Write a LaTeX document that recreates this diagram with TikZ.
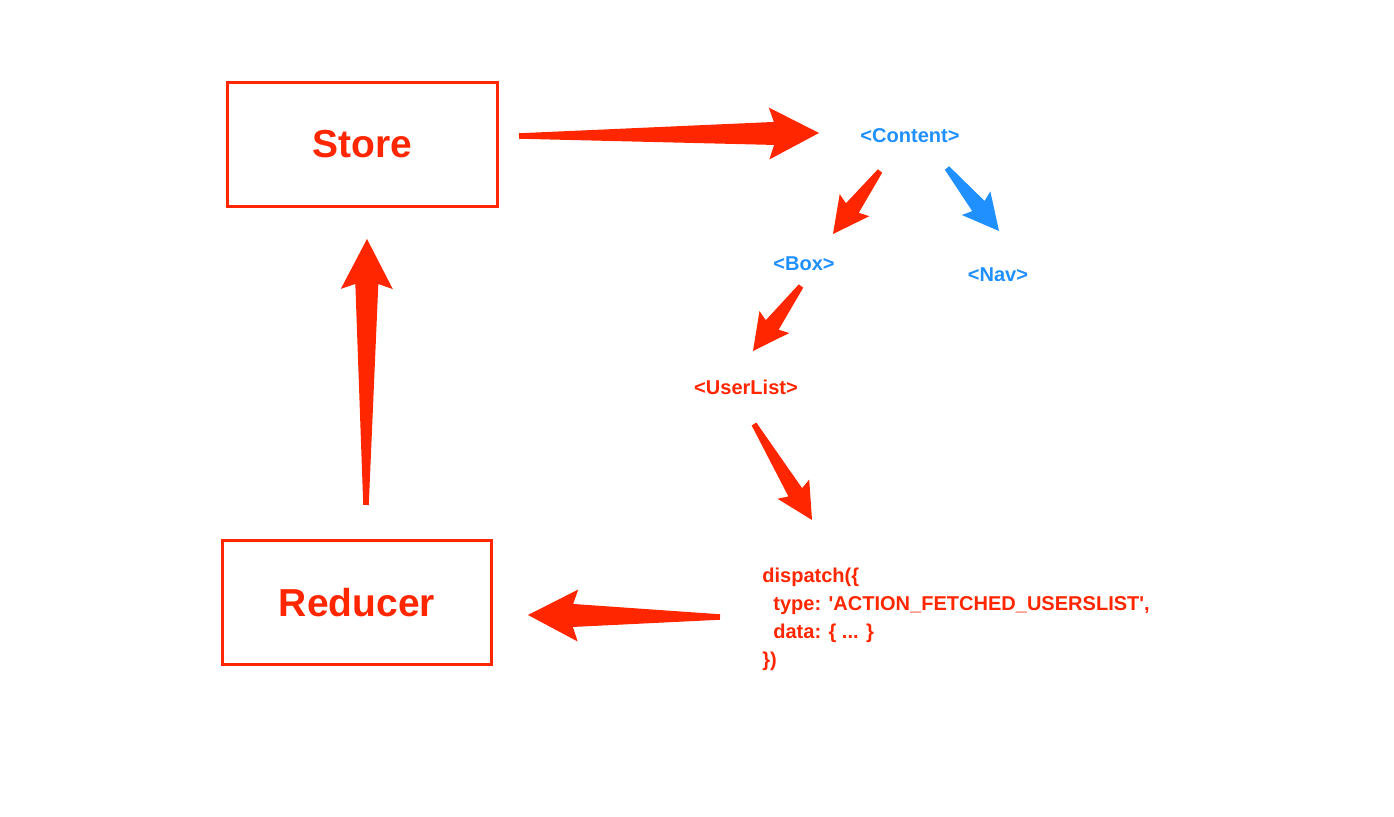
\documentclass[tikz,border=0pt]{standalone}
\usepackage{fontspec}
\setmainfont{Liberation Sans}
\usetikzlibrary{calc}

\definecolor{flowred}{RGB}{255,38,0}
\definecolor{flowblue}{RGB}{32,144,255}

% tapered arrow: tail, tip, colour, head length, head half width, shaft half width
\newcommand\taperarrow[6]{%
  \fill[#3] ($(#1)!0.055cm!90:(#2)$)
    -- ($(#2)!#4*0.9!(#1)!#6!90:(#2)$)
    -- ($(#2)!#4!(#1)!#5!90:(#2)$)
    -- (#2)
    -- ($(#2)!#4!(#1)!#5!-90:(#2)$)
    -- ($(#2)!#4*0.9!(#1)!#6!-90:(#2)$)
    -- ($(#1)!0.055cm!-90:(#2)$) -- cycle;}
\newcommand\bigarrow[3][flowred]{\taperarrow{#2}{#3}{#1}{1cm}{0.52cm}{0.23cm}}
\newcommand\smallarrow[3][flowred]{\taperarrow{#2}{#3}{#1}{0.72cm}{0.37cm}{0.16cm}}

\begin{document}
\begin{tikzpicture}[
  x=0.02cm, y=-0.02cm,
  box/.style={
    draw=flowred,
    line width=1.7pt,
    minimum width=5.4cm,
    minimum height=2.48cm,
    text=flowred,
    font=\bfseries\fontsize{22.2}{26}\selectfont
  },
  tag/.style={
    text=#1,
    inner sep=0pt,
    font=\bfseries\fontsize{11.4}{13}\selectfont
  },
  tag/.default=flowblue
]
  \useasboundingbox (0,0) rectangle (1394,817);

  \node[box] (store) at (362.5,144.5) {Store};
  \node[box] (reducer) at (357,602.5) {Reducer};

  % component tree
  \node[tag] (content) at (910,136) {<Content>};
  \node[tag] (box) at (804,264) {<Box>};
  \node[tag] (nav) at (998,275) {<Nav>};
  \node[tag=flowred] (userlist) at (746,387) {<UserList>};

  \node[tag=flowred, anchor=north west, align=left,
        font=\bfseries\fontsize{11.4}{15.9}\selectfont] (dispatch) at (762,568)
    {dispatch(\{\\
     \hspace*{0.55em}type: \textquotesingle ACTION\_FETCHED\_USERSLIST\textquotesingle,\\
     \hspace*{0.55em}data: \{ ... \}\\
     \})};

  % arrow ends
  \coordinate (storeout) at (519,136);
  \coordinate (contentin) at (819,133);
  \coordinate (contentl) at (880,171);
  \coordinate (boxin) at (833,234);
  \coordinate (contentr) at (947,168);
  \coordinate (navin) at (999,231);
  \coordinate (boxout) at (801,286);
  \coordinate (userin) at (753,351);
  \coordinate (userout) at (754,424);
  \coordinate (dispin) at (812,520);
  \coordinate (dispout) at (720,617);
  \coordinate (reducerin) at (528,615);
  \coordinate (reducerout) at (366,505);
  \coordinate (storein) at (367,239);

  \bigarrow{storeout}{contentin}
  \smallarrow{contentl}{boxin}
  \smallarrow[flowblue]{contentr}{navin}
  \smallarrow{boxout}{userin}
  \smallarrow{userout}{dispin}
  \bigarrow{dispout}{reducerin}
  \bigarrow{reducerout}{storein}
\end{tikzpicture}
\end{document}
